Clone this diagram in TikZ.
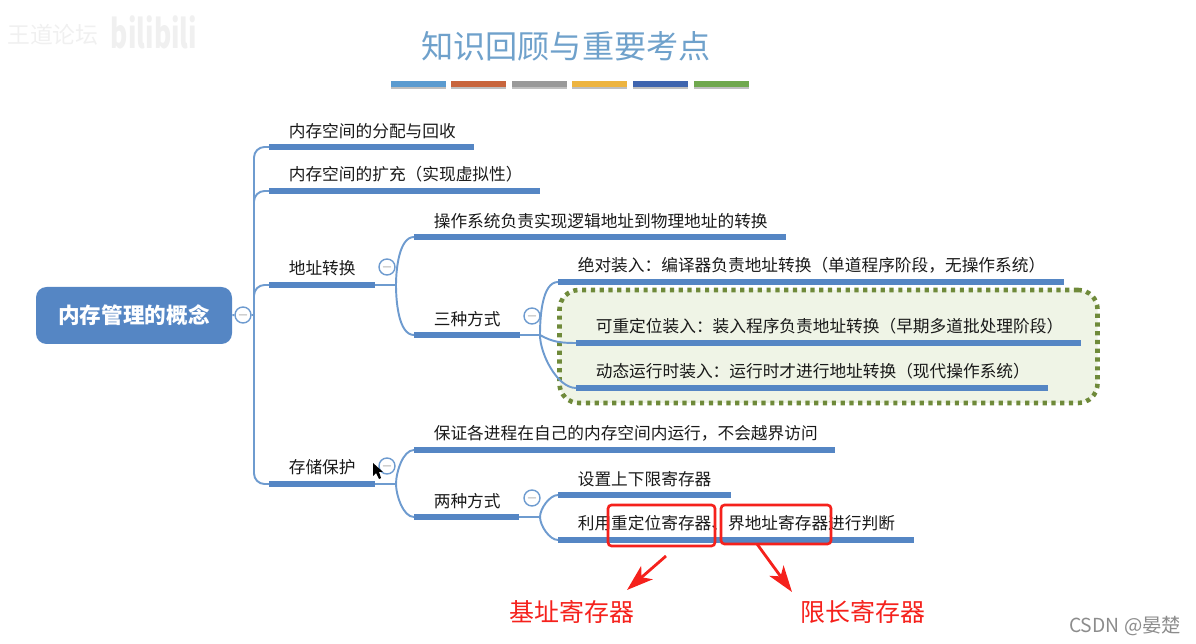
\documentclass[tikz,border=0pt]{standalone}
\usepackage{graphicx}
\usepackage{fontspec}
\setmainfont{Noto Sans CJK SC}
\usepackage{tikz}
\usetikzlibrary{arrows.meta, positioning, calc}
\definecolor{mapblue} {HTML}{5586C4}
\definecolor{linkblue}{HTML}{6E9BCF}
\definecolor{titleblue}{HTML}{6FA1CB}
\definecolor{olive}   {HTML}{6F8A3A}
\definecolor{palegreen}{HTML}{EFF4E6}
\definecolor{markred} {HTML}{F5211C}
\definecolor{stripeA} {HTML}{5B9BD0}
\definecolor{stripeB} {HTML}{C8653C}
\definecolor{stripeC} {HTML}{999999}
\definecolor{stripeD} {HTML}{EDB440}
\definecolor{stripeE} {HTML}{3F65AE}
\definecolor{stripeF} {HTML}{70A84E}
\tikzset{
  topic/.style={anchor=south west, inner xsep=19.5*0.02cm, inner ysep=0pt, minimum height=32*0.02cm,
                align=left, font=\fontsize{9.5}{11}\selectfont, text=black!90,
                append after command={(\tikzlastnode.south west) edge[bar] (\tikzlastnode.south east)}},
  bar/.style={draw=mapblue, line width=3pt},
  link/.style={draw=linkblue, line width=1.1pt},
  fold/.style={circle, draw=linkblue, fill=white, line width=0.8pt, minimum size=16*0.02cm, inner sep=0pt,
               text=gray, font=\fontsize{7}{7}\selectfont},
  markbox/.style={draw=markred, line width=1.5pt, rounded corners=2pt},
  marktext/.style={text=markred, font=\fontsize{14.2}{16}\selectfont},
  markarrow/.style={draw=markred, line width=1.6pt, -{Stealth[length=15pt, width=10pt, inset=4pt]}}
}
\begin{document}
\begin{tikzpicture}[x=0.02cm, y=-0.02cm]
      \useasboundingbox (0,0) rectangle (1196,644);
      \node[text=black!6, font=\fontsize{13}{15}\selectfont] (wm1) at (53,35) {王道论坛};
      \node[text=black!6, font=\fontsize{15}{17}\bfseries\selectfont] (wm2) at (154,32) {\scalebox{1}[1.5]{bilibili}};
      \node[text=titleblue, font=\fontsize{18.3}{22}\selectfont] (title) at (566,46) {知识回顾与重要考点};
      \foreach \c/\x [count=\i] in {stripeA/391, stripeB/451, stripeC/512, stripeD/572, stripeE/633, stripeF/694} {
        \fill[black!25] (\x,83) rectangle (\x+55,89);
        \fill[\c] (\x,81) rectangle (\x+55,87);
      }
      \node[draw=olive, fill=palegreen, line width=2.6pt, dash pattern=on 2.4pt off 2.6pt, rounded corners=11pt,
            minimum width=538*0.02cm, minimum height=113*0.02cm] (frame) at (828.5,346.5) {};
      \node[fill=mapblue, text=white, rounded corners=6pt, minimum width=196*0.02cm, minimum height=57*0.02cm,
            font=\fontsize{12.3}{14}\bfseries\selectfont] (root) at (134,315.5) {内存管理的概念};
      \foreach \n/\x/\y/\w/\t in {
          alloc/269/147/204/内存空间的分配与回收,
          expand/269/191/270/内存空间的扩充（实现虚拟性）,
          trans/269/285/105/地址转换,
          protect/269/484/105/存储保护,
          logic/414/237/371/操作系统负责实现逻辑地址到物理地址的转换,
          three/414/335/105/三种方式,
          absolute/558/282/505/绝对装入：编译器负责地址转换（单道程序阶段，无操作系统）,
          reloc/576/343/504/可重定位装入：装入程序负责地址转换（早期多道批处理阶段）,
          dynamic/576/388/471/动态运行时装入：运行时才进行地址转换（现代操作系统）,
          isolate/414/450/420/保证各进程在自己的内存空间内运行，不会越界访问,
          two/414/517/104/两种方式,
          limits/558/495/172/设置上下限寄存器,
          regs/558/540/355/利用重定位寄存器、界地址寄存器进行判断}
        \node[topic, text width={(\w-39)*0.02cm}] (\n) at (\x,\y) {\t};
      \node[fold] (foldroot) at (243,315) {$-$};
      \node[fold] (foldtrans) at (387,267) {$-$};
      \node[fold] (foldthree) at (532,316) {$-$};
      \node[fold] (foldprotect) at (387,466) {$-$};
      \node[fold] (foldtwo) at (532,498) {$-$};
      \coordinate (hubroot) at (254,315);
      \coordinate (hubtrans) at (396,285);
      \coordinate (hubthree) at (540,335);
      \coordinate (hubprotect) at (396,484);
      \coordinate (hubtwo) at (540,517);
      \draw[link] (root) -- (foldroot) -- (hubroot);
      \foreach \n in {alloc, expand, trans, protect}
        \draw[link, rounded corners=6pt] (hubroot) |- (\n.south west);
      \foreach \a/\b in {trans/hubtrans, three/hubthree, protect/hubprotect, two/hubtwo}
        \draw[link] (\a.south east) -- (\b);
      \foreach \a/\b in {hubtrans/logic, hubthree/absolute, hubprotect/isolate, hubtwo/limits}
        \draw[link] (\a) to[out=90, in=180, looseness=0.75] (\b.south west);
      \foreach \a/\b in {hubtrans/three, hubthree/dynamic, hubprotect/two, hubtwo/regs}
        \draw[link] (\a) to[out=-90, in=180, looseness=0.75] (\b.south west);
      \draw[link] (hubthree) to[out=-30, in=180] (reloc.south west);
      \node[markbox, minimum width=107*0.02cm, minimum height=41*0.02cm] (markA) at (661.5,525.5) {};
      \node[markbox, minimum width=110*0.02cm, minimum height=39*0.02cm] (markB) at (776,524.5) {};
      \node[marktext] (baseA) at (572,612) {基址寄存器};
      \node[marktext] (baseB) at (863,612) {限长寄存器};
      \coordinate (tailA) at (666,556);
      \coordinate (headA) at (627,590);
      \coordinate (tailB) at (757,544);
      \coordinate (headB) at (792,592);
      \draw[markarrow] (tailA) -- (headA);
      \draw[markarrow] (tailB) -- (headB);
      \fill[black] (373,463) -- (373,476) -- (376,473) -- (379,479) -- (381,478) -- (379,472) -- (383,472) -- cycle;
      \node[text=black!45, font=\fontsize{11}{13}\selectfont] (credit) at (1125,626) {CSDN @晏楚};
    \end{tikzpicture}
\end{document}
